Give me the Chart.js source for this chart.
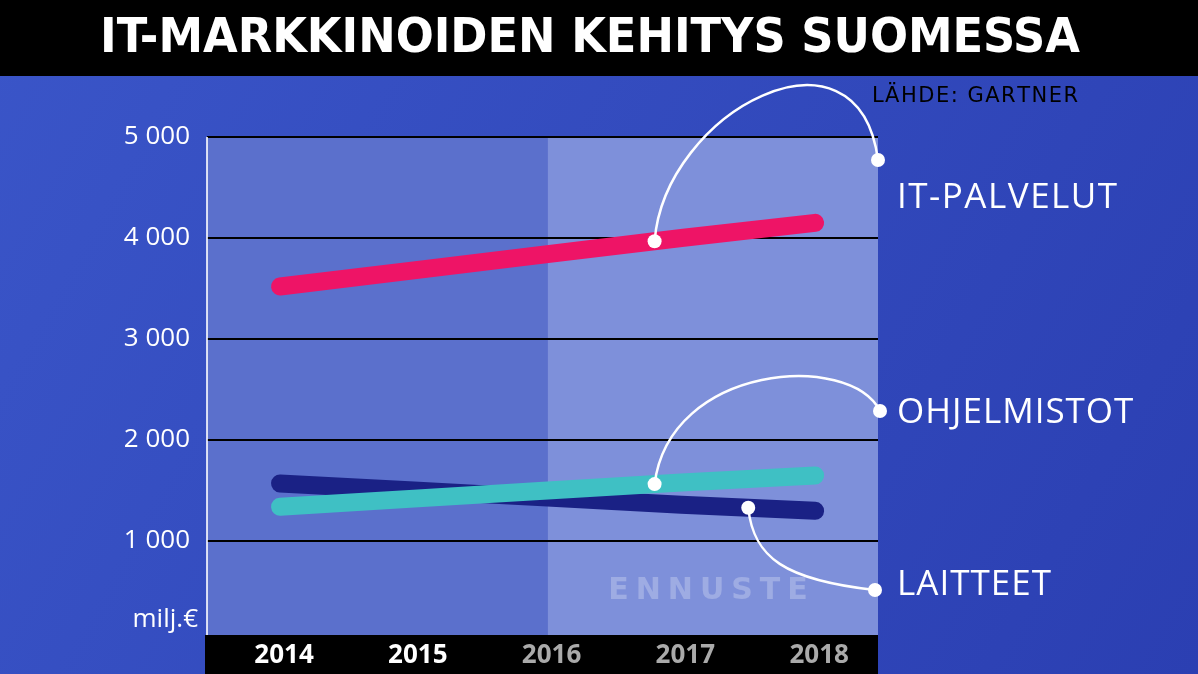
<!DOCTYPE html>
<html><head><meta charset="utf-8">
<script src="https://cdn.jsdelivr.net/npm/chart.js@4"></script>
<style>html,body{margin:0;padding:0;background:#2f45b8}canvas{display:block}</style>
</head><body>
<div style="width:1198px;height:674px"><canvas id="c"></canvas></div>
<script>
const years = [2014, 2015, 2016, 2017, 2018];
const yearLabels = ['2014', '2015', '2016', '2017', '2018'];
const itPalvelut = [3520, 3680, 3840, 4000, 4150];
const ohjelmistot = [1340, 1420, 1500, 1580, 1650];
const laitteet = [1570, 1500, 1430, 1360, 1300];
const yTicks = [1000, 2000, 3000, 4000, 5000];
const yTickLabels = ['1 000', '2 000', '3 000', '4 000', '5 000'];
const seriesNames = ['IT-PALVELUT', 'OHJELMISTOT', 'LAITTEET'];
const forecastFrom = 2016;

const pts = a => a.map((v, i) => ({x: years[i], y: v}));
function valAt(arr, x){ for(let i=0;i<years.length-1;i++){ if(x>=years[i]&&x<=years[i+1]){const t=(x-years[i])/(years[i+1]-years[i]);return arr[i]+t*(arr[i+1]-arr[i]);}} return arr[arr.length-1]; }
function spaced(c,t,x,y,sp){ let w=0; for(const ch of t) w+=c.measureText(ch).width+sp; w-=sp; let px=x-w/2; c.textAlign='left'; for(const ch of t){c.fillText(ch,px,y); px+=c.measureText(ch).width+sp;} }

const deco = {
  id:'deco',
  beforeDraw(ch){
    const c=ch.ctx, a=ch.chartArea, xs=ch.scales.x, ys=ch.scales.y;
    c.save();
    const g=c.createLinearGradient(0,0,1198,674);
    g.addColorStop(0,'#3a55c8'); g.addColorStop(1,'#2b3fb2');
    c.fillStyle=g; c.fillRect(0,0,1198,674);
    const fx=xs.getPixelForValue(forecastFrom);
    c.fillStyle='#5b70cc'; c.fillRect(a.left,a.top,fx-a.left,a.bottom-a.top);
    c.fillStyle='#7e90da'; c.fillRect(fx,a.top,a.right-fx,a.bottom-a.top);
    c.fillStyle='#000'; c.fillRect(0,0,1198,76);
    c.fillStyle='#fff'; c.font='bold 48px "DejaVu Sans Condensed","DejaVu Sans"';
    c.textBaseline='middle'; c.textAlign='center';
    const t='IT-MARKKINOIDEN KEHITYS SUOMESSA';
    const w=c.measureText(t).width; c.save(); c.translate(590,40); c.scale(980/w,1); c.fillText(t,0,0); c.restore();
    c.fillStyle='#000'; c.font='21px "DejaVu Sans"';
    spaced(c,'LÄHDE: GARTNER',975,97,1.5);
    c.fillStyle='rgba(255,255,255,0.25)'; c.font='bold 30px "DejaVu Sans"';
    spaced(c,'ENNUSTE',708,591,7);
    c.strokeStyle='#000'; c.lineWidth=2;
    yTicks.forEach(v=>{const y=Math.round(ys.getPixelForValue(v));c.beginPath();c.moveTo(a.left,y);c.lineTo(a.right,y);c.stroke();});
    c.strokeStyle='rgba(255,255,255,0.8)'; c.lineWidth=2;
    c.beginPath();c.moveTo(a.left,a.top);c.lineTo(a.left,a.bottom);c.stroke();
    c.fillStyle='#fff'; c.font='26px "Open Sans","DejaVu Sans"'; c.textAlign='right';
    yTicks.forEach((v,i)=>c.fillText(yTickLabels[i],190,ys.getPixelForValue(v)));
    c.fillText('milj.€',198,620);
    c.fillStyle='#000'; c.fillRect(a.left-2,a.bottom,a.right-a.left+2,674-a.bottom);
    c.font='bold 26px "Open Sans","DejaVu Sans"'; c.textAlign='center';
    years.forEach((yr,i)=>{c.fillStyle=yr<forecastFrom?'#fff':'#aaa';c.fillText(yearLabels[i],xs.getPixelForValue(yr)+4,a.bottom+21);});
    c.restore();
  },
  afterDatasetsDraw(ch){
    const c=ch.ctx, a=ch.chartArea, xs=ch.scales.x, ys=ch.scales.y;
    const calls=[
      {arr:itPalvelut, x:2016.8, ex:a.right, ey:160, c1:[10,-130], c2:[-20,-150], ly:198},
      {arr:ohjelmistot, x:2016.8, ex:a.right+2, ey:411, c1:[15,-120], c2:[-30,-60], ly:413},
      {arr:laitteet, x:2017.5, ex:a.right-3, ey:590, c1:[5,50], c2:[-90,-10], ly:585}
    ];
    c.save();
    c.strokeStyle='#fff'; c.fillStyle='#fff'; c.lineWidth=2.5;
    calls.forEach((o,i)=>{
      const sx=xs.getPixelForValue(o.x), sy=ys.getPixelForValue(valAt(o.arr,o.x));
      c.beginPath(); c.moveTo(sx,sy);
      c.bezierCurveTo(sx+o.c1[0],sy+o.c1[1],o.ex+o.c2[0],o.ey+o.c2[1],o.ex,o.ey); c.stroke();
      [[sx,sy],[o.ex,o.ey]].forEach(p=>{c.beginPath();c.arc(p[0],p[1],7,0,Math.PI*2);c.fill();});
      c.font='35px "Open Sans","DejaVu Sans"'; c.textBaseline='middle';
      const tw=c.measureText(seriesNames[i]).width;
      const sp=(i===0?1.5:1);
      spaced(c,seriesNames[i],897+(tw+sp*(seriesNames[i].length-1))/2,o.ly,sp);
    });
    c.restore();
  }
};

const mk=(d,col)=>({data:pts(d),borderColor:col,borderWidth:18,borderCapStyle:'round',pointRadius:0,tension:0,fill:false});
new Chart(document.getElementById('c'),{
  type:'line',
  data:{datasets:[mk(itPalvelut,'#ee1466'),mk(ohjelmistot,'#3fc0c4'),mk(laitteet,'#1a2185')]},
  options:{
    responsive:true, maintainAspectRatio:false, animation:false,
    layout:{padding:{left:207,right:320,top:137,bottom:39}},
    plugins:{legend:{display:false},tooltip:{enabled:false}},
    scales:{
      x:{type:'linear',min:2013.454,max:2018.47,display:false},
      y:{min:70,max:5000,display:false}
    }
  },
  plugins:[deco]
});
</script>
</body></html>
